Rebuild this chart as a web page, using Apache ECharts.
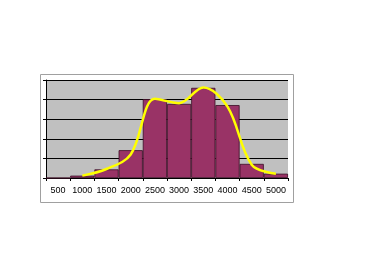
<!DOCTYPE html>
<html>
<head>
<meta charset="utf-8">
<script src="https://cdn.jsdelivr.net/npm/echarts@6/dist/echarts.min.js"></script>
<style>
  html, body { margin: 0; padding: 0; background: #fff; }
  #chart { width: 368px; height: 276px; }
</style>
</head>
<body>
<div id="chart"></div>
<script>
var categories = ["500", "1000", "1500", "2000", "2500", "3000", "3500", "4000", "4500", "5000"];
var counts = [0, 6, 22, 71, 201, 189, 230, 186, 36, 11];
var fitted = [null, 6, 23, 60, 202, 191, 231, 182, 34, 11];

var chart = echarts.init(document.getElementById("chart"));
var option = {
    animation: false,
    graphic: [
        {
            type: "rect",
            shape: { x: 40.5, y: 74.5, width: 253, height: 128 },
            style: { fill: "none", stroke: "#a0a0a0", lineWidth: 1 },
            z: -1
        }
    ],
    grid: {
        left: 46, right: 80, top: 80, bottom: 98,
        show: true, backgroundColor: "#c0c0c0", borderWidth: 0
    },
    xAxis: {
        type: "category",
        data: categories,
        boundaryGap: true,
        axisLine: { lineStyle: { color: "#000", width: 1 } },
        axisTick: { show: true, length: 3, lineStyle: { color: "#000" } },
        axisLabel: { color: "#000", fontSize: 9, fontFamily: "Liberation Sans, Arial", margin: 8, interval: 0 }
    },
    yAxis: {
        type: "value",
        min: 0, max: 250, interval: 50,
        axisLine: { show: true, lineStyle: { color: "#000", width: 1 } },
        axisTick: { show: true, length: 3, lineStyle: { color: "#000" } },
        axisLabel: { show: false },
        splitLine: { show: true, lineStyle: { color: "#000", width: 1 } }
    },
    series: [
        {
            name: "count",
            type: "bar",
            data: counts,
            barCategoryGap: "0%",
            itemStyle: { color: "#993366", borderColor: "#3a0d25", borderWidth: 0.8 }
        },
        {
            name: "fit",
            type: "line",
            data: fitted,
            smooth: 0.35,
            showSymbol: false,
            lineStyle: { color: "#ffff00", width: 2.5 },
            z: 3
        }
    ]
};
chart.setOption(option);
</script>
</body>
</html>
